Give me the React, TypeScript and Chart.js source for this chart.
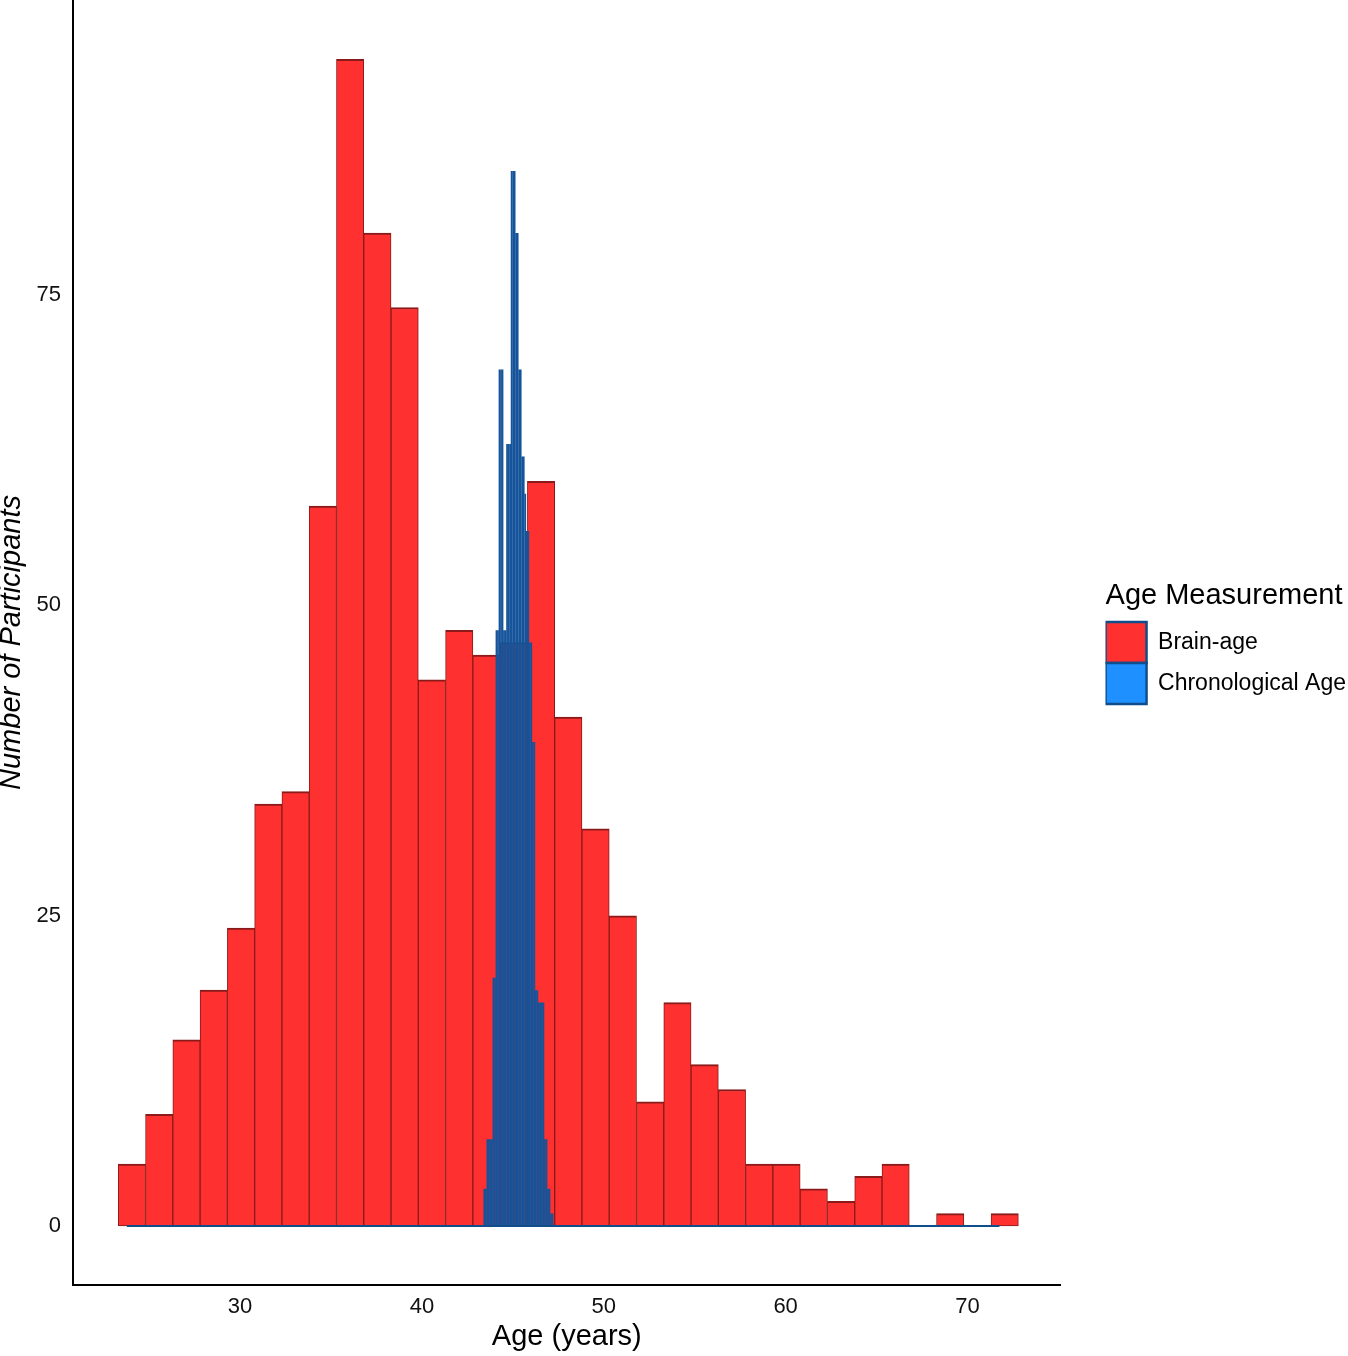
import React, { useEffect, useRef } from "react";
import Chart, { ChartConfiguration } from "chart.js/auto";

// Brain-age histogram, 1.5 year bins
const brainBinStart = 23.3;
const brainBinWidth = 1.5;
const brainCounts = [
  5, 9, 15, 19, 24, 34, 35, 58, 94, 80, 74, 44, 48, 46, 47, 60, 41, 32, 25, 10,
  18, 13, 11, 5, 5, 3, 2, 4, 5, 0, 1, 0, 1,
];

// Chronological age histogram, one-month bins
const chronoBinStart = 43.39;
const chronoBinWidth = 1 / 12;
const chronoCounts = [
  3, 3, 7, 7, 7, 7, 20, 20, 48, 48, 69, 69, 69, 48, 48, 63, 63, 63, 85, 85, 85,
  80, 80, 69, 69, 62, 62, 59, 56, 56, 47, 47, 39, 39, 19, 19, 18, 18, 18, 18, 7,
  7, 3, 3, 1, 1,
];
// the empty chronological bins still leave an outline along zero
const chronoRange = [23.77, 71.76];

const xTicks = [30, 40, 50, 60, 70];
const yTicks = [0, 25, 50, 75];

const FONT = "'Liberation Sans', Arial, Helvetica, sans-serif";
const BRAIN_FILL = "#FF3030";
const CHRONO_FILL = "#1E90FF";
const CHRONO_EDGE = "#104E8B";
// month bins are so thin that only their outline colour shows
const CHRONO_THIN = "#15549A";

const binCentres = (start: number, width: number, counts: number[]) =>
  counts.map((y, i) => ({ x: start + width * (i + 0.5), y }));

const useTicks = (list: number[]) => (scale: any) => {
  scale.ticks = list.map((value) => ({ value }));
};

// fix an axis' thickness and drop the label overhang padding
const fixSize = (key: "width" | "height", size: number) => (s: any) => {
  s[key] = size;
  s.paddingTop = 0;
  s.paddingBottom = 0;
  s.paddingLeft = 0;
  s.paddingRight = 0;
};

const AgeHistogram: React.FC = () => {
  const canvasRef = useRef<HTMLCanvasElement>(null);
  const chartInstance = useRef<Chart | null>(null);

  useEffect(() => {
    document.body.style.margin = "0";
    const ctx = canvasRef.current?.getContext("2d");
    if (!ctx) return;
    if (chartInstance.current) chartInstance.current.destroy();
    Chart.defaults.font.family = FONT;

    const xRange = { min: 20.81, max: 75.12 };
    const legendFills = [BRAIN_FILL, CHRONO_FILL];

    chartInstance.current = new Chart(ctx, {
      type: "bar",
      data: {
        datasets: [
          {
            label: "Brain-age",
            data: binCentres(brainBinStart, brainBinWidth, brainCounts),
            xAxisID: "x",
            backgroundColor: BRAIN_FILL,
            borderColor: "#8B1A1A",
            borderWidth: { top: 2, left: 1, right: 1, bottom: 1 },
            borderSkipped: false,
            barPercentage: 1,
            categoryPercentage: 1,
            grouped: false,
            order: 3,
          },
          {
            label: "Chronological Age",
            data: binCentres(chronoBinStart, chronoBinWidth, chronoCounts),
            xAxisID: "x2",
            backgroundColor: CHRONO_THIN,
            borderWidth: 0,
            inflateAmount: 0,
            barPercentage: 1.15,
            categoryPercentage: 1,
            grouped: false,
            order: 2,
          },
          {
            type: "line",
            label: "zero",
            data: chronoRange.map((x) => ({ x, y: 0 })),
            xAxisID: "x",
            borderColor: CHRONO_EDGE,
            borderWidth: 2,
            pointRadius: 0,
            order: 1,
          },
        ],
      },
      options: {
        responsive: true,
        maintainAspectRatio: false,
        animation: false,
        events: [],
        layout: { padding: { left: 0, top: 0, bottom: 0, right: -8 } },
        scales: {
          x: {
            type: "linear",
            position: "bottom",
            offset: false,
            ...xRange,
            grid: { display: false, drawTicks: false },
            border: { display: true, color: "#000", width: 2 },
            afterBuildTicks: useTicks(xTicks),
            ticks: { font: { size: 22 }, color: "#111", padding: 9 },
            title: {
              display: true,
              text: "Age (years)",
              color: "#000",
              font: { size: 29 },
              padding: { top: 0, bottom: 2 },
            },
            afterFit: fixSize("height", 71),
          },
          x2: {
            type: "linear",
            display: false,
            offset: false,
            ...xRange,
            afterBuildTicks: useTicks(xTicks),
            grid: { display: false },
          },
          y: {
            type: "linear",
            position: "left",
            min: -4.75,
            max: 98.77,
            grid: { display: false, drawTicks: false },
            border: { display: true, color: "#000", width: 2 },
            afterBuildTicks: useTicks(yTicks),
            ticks: { font: { size: 22 }, color: "#111", padding: 12 },
            title: {
              display: true,
              text: "Number of Participants",
              color: "#000",
              font: { size: 29, style: "italic", lineHeight: 0.8 },
              padding: 0,
            },
            afterFit: fixSize("width", 73),
          },
          // empty space between the plot and the legend
          gap: {
            type: "linear",
            position: "right",
            display: true,
            grid: { display: false, drawTicks: false },
            ticks: { display: false },
            border: { display: false },
            afterFit: fixSize("width", 45),
          },
        },
        plugins: {
          tooltip: { enabled: false },
          legend: {
            position: "right",
            align: "center",
            fullSize: false,
            maxWidth: 320,
            title: {
              display: true,
              text: "Age Measurement",
              color: "#000",
              position: "start",
              font: { size: 29 },
              padding: { top: 0, bottom: 6 },
            },
            labels: {
              boxWidth: 41,
              boxHeight: 41,
              padding: 0,
              color: "#000",
              font: { size: 23 },
              generateLabels: (chart: Chart) =>
                chart.data.datasets.slice(0, 2).map((ds: any, i: number) => ({
                  text: ds.label,
                  fillStyle: legendFills[i],
                  strokeStyle: CHRONO_EDGE,
                  lineWidth: 2.5,
                  hidden: false,
                  datasetIndex: i,
                })),
            },
          },
        },
      },
    } as ChartConfiguration<"bar">);

    return () => {
      if (chartInstance.current) {
        chartInstance.current.destroy();
        chartInstance.current = null;
      }
    };
  }, []);

  return (
    <div style={{ position: "absolute", left: 0, top: 0, width: 1348, height: 1356 }}>
      <canvas ref={canvasRef} />
    </div>
  );
};

export default function App() {
  return <AgeHistogram />;
}
